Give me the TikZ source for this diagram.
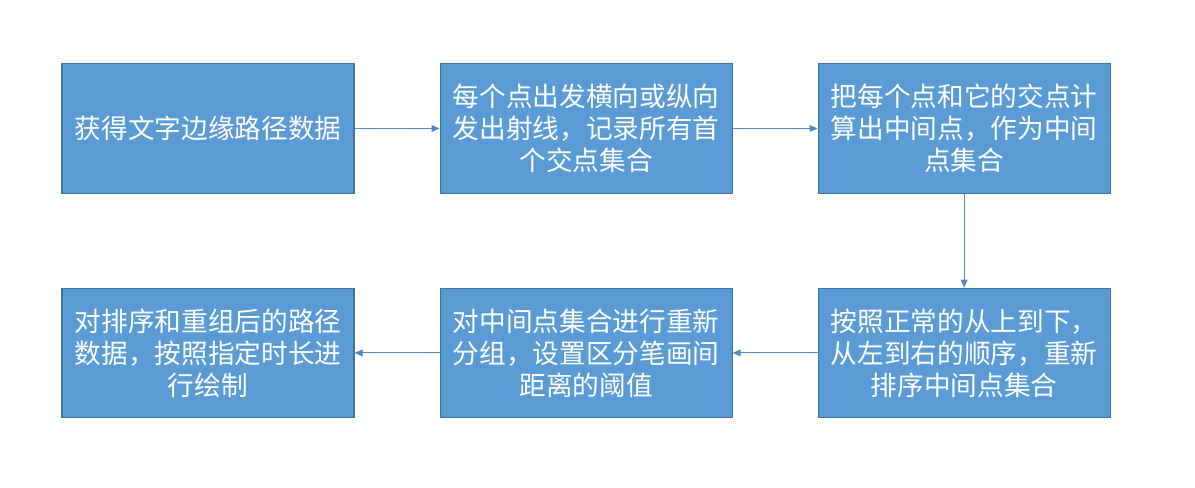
\documentclass[tikz,border=0pt]{standalone}
\usepackage{fontspec}
\newfontfamily\cjk{Noto Sans CJK SC}
\usepackage{xcolor}
\usetikzlibrary{positioning,arrows.meta}
\definecolor{boxfill}{HTML}{5B9BD5}
\definecolor{boxline}{HTML}{41719C}
\definecolor{arrowcol}{HTML}{4F88C6}

\begin{document}
\begin{tikzpicture}[x=0.75pt,y=0.75pt,
    stepbox/.style={draw=boxline,fill=boxfill,line width=0.8pt,text=white,
      minimum width=219pt,minimum height=97pt,inner sep=0pt,align=center,
      font=\cjk\fontsize{20pt}{24pt}\selectfont},
    flow/.style={draw=arrowcol,line width=0.7pt,-{Triangle[length=6pt,width=5pt]}},
    node distance=63.75pt and 63.75pt]
  \useasboundingbox (0,0) rectangle (1195,-488);
  % top row
  \node[stepbox] (edge) at (208,-128.5) {获得文字边缘路径数据};
  \node[stepbox,right=of edge] (ray) {每个点出发横向或纵向\\发出射线，记录所有首\\个交点集合};
  \node[stepbox,right=of ray] (mid) {把每个点和它的交点计\\算出中间点，作为中间\\点集合};
  % bottom row
  \node[stepbox,below=70.5pt of mid] (sort) {按照正常的从上到下，\\从左到右的顺序，重新\\排序中间点集合};
  \node[stepbox,left=of sort] (group) {对中间点集合进行重新\\分组，设置区分笔画间\\距离的阈值};
  \node[stepbox,left=of group] (draw) {对排序和重组后的路径\\数据，按照指定时长进\\行绘制};
  % arrows
  \draw[flow] (edge) -- (ray);
  \draw[flow] (ray) -- (mid);
  \draw[flow] (mid) -- (sort);
  \draw[flow] (sort) -- (group);
  \draw[flow] (group) -- (draw);
\end{tikzpicture}
\end{document}
